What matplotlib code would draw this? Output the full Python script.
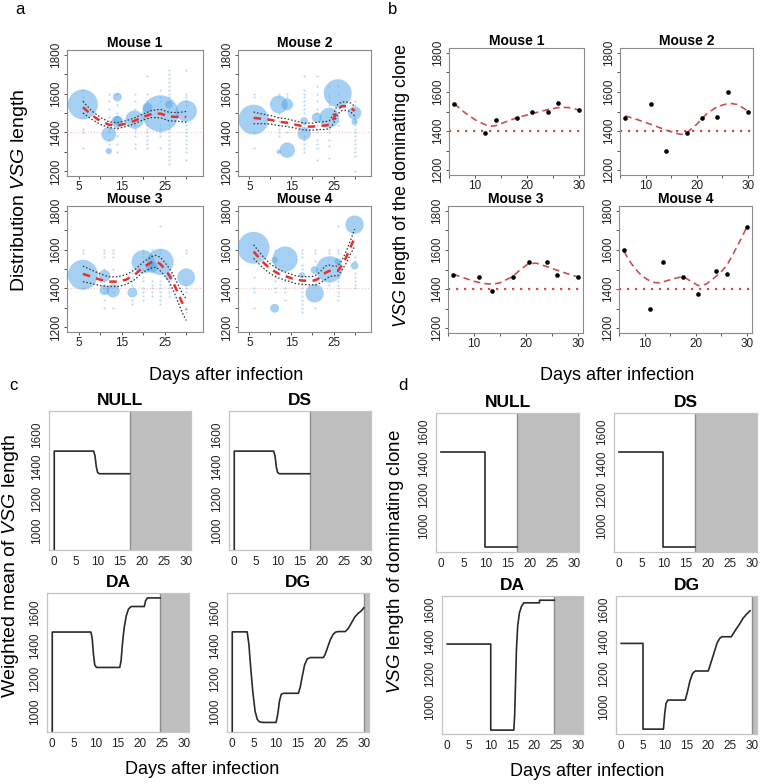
import matplotlib
matplotlib.use('Agg')
import matplotlib.pyplot as plt
import numpy as np

plt.rcParams['font.family'] = ['Liberation Sans', 'DejaVu Sans']
plt.rcParams['mathtext.fontset'] = 'custom'
plt.rcParams['mathtext.rm'] = 'Liberation Sans'
plt.rcParams['mathtext.it'] = 'Liberation Sans:italic'

W, H = 760, 784

# ---------------- panel a: VSG length distribution per mouse ----------------
mice = ['Mouse 1', 'Mouse 2', 'Mouse 3', 'Mouse 4']

# big bubbles: (day, length, frequency)
bub_day = [
    [6, 12, 12, 14, 14, 14, 18, 21, 24, 26, 30],
    [6, 12, 12, 14, 14, 18, 18, 21, 24, 26, 30, 30],
    [6, 11, 11, 13, 17.5, 20, 22, 24, 26, 30],
    [6, 11, 11, 13.5, 17.5, 20.5, 20.5, 24, 26, 30, 30],
]
bub_len = [
    [1544, 1391, 1304, 1582, 1462, 1455, 1466, 1527, 1497, 1544, 1510],
    [1466, 1544, 1300, 1544, 1309, 1459, 1394, 1476, 1476, 1602, 1500, 1455],
    [1470, 1465, 1391, 1388, 1379, 1537, 1510, 1537, 1460, 1457],
    [1609, 1545, 1298, 1551, 1468, 1375, 1495, 1498, 1540, 1728, 1517],
]
bub_freq = [
    [0.45, 0.11, 0.02, 0.04, 0.04, 0.07, 0.17, 0.05, 0.67, 0.03, 0.23],
    [0.45, 0.16, 0.01, 0.07, 0.12, 0.03, 0.09, 0.05, 0.20, 0.39, 0.09, 0.02],
    [0.45, 0.07, 0.05, 0.09, 0.05, 0.27, 0.07, 0.35, 0.03, 0.16],
    [0.51, 0.02, 0.04, 0.32, 0.02, 0.17, 0.03, 0.35, 0.02, 0.17, 0.03],
]

# small dots: one list of lengths per sampled day
dot_days = [
    [6, 12, 14, 18, 21, 24, 26, 30],
    [6, 12, 14, 18, 21, 24, 26, 30],
    [6, 11, 13, 17.5, 20, 22, 24, 26, 30],
    [6, 11, 13.5, 17.5, 20.5, 24, 26, 30],
]
dot_len = [
    [[1620, 1580, 1560, 1500, 1480, 1420, 1400, 1320],
     [1600, 1560, 1520, 1480, 1460, 1440, 1420, 1400, 1360, 1340],
     [1600, 1540, 1500, 1480, 1440, 1420, 1380, 1340, 1300],
     [1600, 1560, 1520, 1440, 1420, 1400, 1380, 1340, 1320],
     [1690, 1600, 1560, 1500, 1460, 1440, 1420, 1400, 1380, 1360, 1340, 1320],
     [1620, 1580, 1560, 1440, 1420, 1400, 1380, 1320],
     [1720, 1700, 1680, 1660, 1640, 1620, 1600, 1580, 1560, 1520, 1500, 1460,
      1440, 1420, 1400, 1380, 1360, 1340, 1320, 1300, 1280, 1260, 1240],
     [1720, 1600, 1580, 1560, 1540, 1460, 1440, 1420, 1400, 1380, 1360, 1340,
      1320, 1300, 1260]],
    [[1600, 1580, 1400, 1320],
     [1600, 1580, 1500, 1480, 1460, 1440, 1420, 1400, 1380],
     [1600, 1580, 1440, 1400],
     [1690, 1620, 1600, 1580, 1560, 1540, 1520, 1500, 1440, 1420, 1380, 1360,
      1340, 1320, 1300],
     [1690, 1640, 1600, 1560, 1520, 1500, 1440, 1420, 1400, 1360, 1340, 1320, 1260],
     [1640, 1600, 1580, 1560, 1540, 1420, 1400, 1360, 1330, 1270],
     [1640, 1600, 1520, 1460, 1440],
     [1560, 1540, 1520, 1480, 1460, 1440, 1420, 1400, 1380, 1360, 1340, 1320,
      1300, 1280, 1200]],
    [[1600, 1580, 1400],
     [1600, 1580, 1560, 1500, 1440, 1420, 1400, 1380, 1340, 1300],
     [1600, 1580, 1560, 1500, 1440, 1380, 1300],
     [1500, 1480, 1460, 1440, 1420, 1340, 1320],
     [1600, 1580, 1560, 1500, 1460, 1440, 1400, 1380, 1360, 1340],
     [1600, 1440, 1420, 1400, 1380, 1360],
     [1720, 1600, 1580, 1440, 1420, 1400, 1380, 1360, 1340, 1320],
     [1420, 1400, 1380, 1360],
     [1600, 1580, 1420, 1400, 1380, 1300, 1280]],
    [[1460, 1400, 1380, 1300],
     [1600, 1560, 1520, 1460, 1440, 1400, 1380],
     [1440, 1400, 1380, 1340],
     [1600, 1580, 1560, 1520, 1500, 1440, 1420, 1400, 1380, 1360, 1340, 1320,
      1300, 1280],
     [1600, 1580, 1540, 1460, 1440, 1420, 1300],
     [1600, 1580, 1440, 1420],
     [1720, 1600, 1580, 1460, 1440, 1420, 1400, 1380, 1360, 1340],
     [1560, 1540, 1480, 1460, 1440, 1420, 1400]],
]

# fitted trend (red dashed) and its band half-width (black dotted)
fit_x = [
    [6, 8, 10, 12, 14, 16, 18, 20, 22, 24, 26, 28, 30],
    [6, 8, 10, 12, 14, 16, 18, 20, 22, 23, 24, 25, 26, 27, 28, 29, 30],
    [6, 8, 10, 12, 14, 16, 18, 20, 22, 23, 24, 25, 26, 27, 28, 29, 30],
    [6, 8, 10, 12, 14, 16, 18, 20, 21, 22, 23, 24, 25, 26, 27, 28, 29, 30],
]
fit_y = [
    [1530, 1490, 1460, 1440, 1435, 1445, 1460, 1480, 1495, 1497, 1482, 1480, 1480],
    [1475, 1470, 1465, 1455, 1450, 1440, 1430, 1430, 1435, 1435, 1440, 1470, 1520,
     1535, 1535, 1530, 1510],
    [1475, 1460, 1445, 1435, 1435, 1445, 1470, 1510, 1535, 1540, 1525, 1500, 1470,
     1430, 1380, 1330, 1290],
    [1590, 1540, 1500, 1475, 1460, 1445, 1440, 1440, 1445, 1460, 1480, 1490, 1490,
     1490, 1520, 1560, 1610, 1660],
]
fit_se = [
    [30, 22, 18, 15, 15, 15, 15, 15, 18, 22, 22, 22, 28],
    [30, 25, 22, 20, 20, 18, 18, 18, 20, 20, 20, 25, 25, 22, 22, 22, 25],
    [40, 35, 30, 25, 25, 25, 25, 25, 30, 30, 35, 35, 35, 40, 45, 50, 55],
    [35, 30, 25, 22, 20, 20, 20, 22, 25, 30, 35, 30, 25, 25, 25, 30, 35, 45],
]

# ---------------- panel b: dominating clone per mouse ----------------
dom_days = [
    [6, 12, 14, 18, 21, 24, 26, 30],
    [6, 11, 14, 18, 21, 24, 26, 30],
    [6, 11, 13.5, 17.5, 20.5, 24, 26, 30],
    [6, 11, 13.5, 17.5, 20.5, 24, 26, 30],
]
dom_len = [
    [1540, 1388, 1458, 1465, 1495, 1495, 1543, 1507],
    [1465, 1540, 1298, 1388, 1465, 1470, 1600, 1500],
    [1470, 1463, 1389, 1463, 1540, 1540, 1470, 1463],
    [1598, 1298, 1538, 1463, 1373, 1493, 1477, 1718],
]
dom_fit_x = [
    [6, 8, 10, 12, 13, 14, 16, 18, 20, 22, 24, 26, 27, 28, 30],
    [6, 8, 10, 12, 14, 16, 17, 18, 20, 22, 24, 26, 27, 28, 30],
    [6, 8, 10, 12, 13.5, 15, 17.5, 19, 20.5, 22, 24, 26, 28, 30],
    [6, 7, 8, 9, 10, 11, 12, 13, 15, 17.5, 19, 20.5, 22, 23.5, 25, 26, 27, 28, 29, 30],
]
dom_fit_y = [
    [1540, 1495, 1458, 1432, 1425, 1428, 1448, 1468, 1482, 1496, 1510, 1520, 1521,
     1520, 1508],
    [1478, 1462, 1444, 1425, 1405, 1388, 1383, 1390, 1435, 1490, 1525, 1540, 1540,
     1535, 1502],
    [1476, 1458, 1440, 1428, 1425, 1432, 1465, 1502, 1530, 1532, 1515, 1496, 1478,
     1462],
    [1592, 1545, 1510, 1480, 1458, 1442, 1433, 1432, 1448, 1465, 1440, 1418, 1425,
     1455, 1490, 1520, 1565, 1615, 1665, 1720],
]

# ---------------- panels c, d: model scenarios ----------------
models = ['NULL', 'DS', 'DA', 'DG']
end_day = [17.2, 17.2, 24.6, 30.0]

wmean_x = [
    [0, 0, 9.0, 9.3, 9.6, 9.9, 10.3, 17.2],
    [0, 0, 9.0, 9.3, 9.6, 9.9, 10.3, 17.2],
    [0, 0, 8.8, 9.1, 9.4, 9.7, 10.1, 15.4, 15.7, 16.0, 16.4, 16.9, 17.4, 18.0,
     21.0, 21.3, 21.7, 24.6],
    [0, 0, 3.4, 3.8, 4.2, 4.7, 5.2, 5.7, 6.2, 7.0, 10.0, 10.4, 10.8, 11.2, 11.7,
     15.1, 15.5, 16.0, 16.5, 17.1, 17.8, 20.8, 21.2, 21.8, 22.4, 23.0, 23.6, 24.3,
     25.8, 26.5, 27.3, 28.0, 28.7, 29.4, 30.0],
]
wmean_y = [
    [850, 1500, 1500, 1470, 1400, 1365, 1358, 1358],
    [850, 1500, 1500, 1470, 1400, 1365, 1358, 1358],
    [850, 1485, 1485, 1450, 1350, 1285, 1270, 1270, 1310, 1410, 1510, 1585, 1625,
     1640, 1640, 1675, 1692, 1692],
    [850, 1486, 1486, 1410, 1270, 1120, 1005, 955, 940, 936, 936, 990, 1070, 1108,
     1113, 1113, 1150, 1220, 1285, 1322, 1330, 1330, 1350, 1395, 1440, 1470, 1485,
     1488, 1488, 1508, 1545, 1578, 1598, 1612, 1632],
]

dom_model_x = [
    [0, 9.8, 9.8, 17.1],
    [0, 9.8, 9.8, 17.1],
    [0, 10.0, 10.0, 15.3, 15.5, 15.7, 15.9, 16.2, 16.6, 17.1, 17.6, 21.2, 21.2, 24.6],
    [0, 5.0, 5.0, 9.7, 10.0, 10.3, 10.7, 14.7, 15.2, 15.8, 16.4, 17.0, 20.0, 20.6,
     21.3, 22.0, 22.6, 23.1, 25.3, 26.2, 27.1, 28.0, 28.8, 29.6],
]
dom_model_y = [
    [1473, 1473, 870, 870],
    [1473, 1473, 870, 870],
    [1386, 1386, 856, 856, 950, 1150, 1350, 1500, 1580, 1620, 1640, 1640, 1656, 1656],
    [1390, 1390, 862, 862, 960, 1020, 1041, 1041, 1090, 1160, 1205, 1220, 1220,
     1270, 1330, 1390, 1420, 1431, 1431, 1470, 1505, 1545, 1570, 1591],
]


def box(l, t, r, b):
    return fig.add_axes([l / W, 1 - b / H, (r - l) / W, (b - t) / H])


def ftext(x, y, s, **kw):
    fig.text(x / W, 1 - y / H, s, **kw)


def style_ab(ax, xticks, xlabels):
    for sp in ax.spines.values():
        sp.set_color('#8a8a8a')
        sp.set_linewidth(0.8)
    ax.set_ylim(1176, 1824)
    ax.set_yticks([1200, 1300, 1400, 1500, 1600, 1700, 1800])
    ax.set_yticklabels(['1200', '', '1400', '', '1600', '', '1800'],
                       rotation=90, va='center')
    ax.set_xticks(xticks)
    ax.set_xticklabels(xlabels)
    ax.tick_params(labelsize=8.5, length=2.5, width=0.7, color='#555555', pad=1,
                   labelcolor='#222222')


def style_cd(ax, ylim):
    for sp in ax.spines.values():
        sp.set_color('#c4c4c4')
        sp.set_linewidth(0.9)
    ax.set_xlim(-1.2, 31.2)
    ax.set_ylim(*ylim)
    ax.set_xticks([0, 5, 10, 15, 20, 25, 30])
    ax.set_yticks([1000, 1200, 1400, 1600])
    ax.set_yticklabels(['1000', '1200', '1400', '1600'], rotation=90, va='center')
    ax.tick_params(length=0, pad=4, labelcolor='#222222')
    for lab in ax.get_xticklabels() + ax.get_yticklabels():
        lab.set_fontsize(8.5)


fig = plt.figure(figsize=(W / 100, H / 100), dpi=100)

# ---- panel a ----
a_boxes = [(67, 50, 203, 176), (238, 50, 371, 176),
           (67, 206, 203, 332), (238, 206, 371, 332)]
for i, bx in enumerate(a_boxes):
    ax = box(*bx)
    ax.axhline(1400, color='#f2c4c4', lw=0.8, ls=':')
    for d, vals in zip(dot_days[i], dot_len[i]):
        ax.scatter([d] * len(vals), vals, s=2.5, color='#6aaee8', alpha=0.45,
                   lw=0, zorder=2)
    ax.scatter(bub_day[i], bub_len[i], s=np.array(bub_freq[i]) * 1036,
               color='#4fa3e8', alpha=0.5, lw=0, zorder=3)
    fx = np.array(fit_x[i])
    fy = np.array(fit_y[i])
    se = np.array(fit_se[i])
    ax.plot(fx, fy + se, color='#333333', lw=0.9, ls=(0, (1.2, 1.6)), zorder=4)
    ax.plot(fx, fy - se, color='#333333', lw=0.9, ls=(0, (1.2, 1.6)), zorder=4)
    ax.plot(fx, fy, color='#e8302a', lw=1.8, ls=(0, (3, 2.5)), zorder=5)
    ax.set_xlim(2.3, 33.9)
    style_ab(ax, [5, 10, 15, 20, 25, 30], ['5', '', '15', '', '25', ''])
    ax.set_title(mice[i], fontsize=10, fontweight='bold', pad=0.5)

# ---- panel b ----
b_boxes = [(449, 48, 584, 175), (620, 48, 753, 175),
           (448, 206, 583, 333), (619, 206, 752, 333)]
for i, bx in enumerate(b_boxes):
    ax = box(*bx)
    ax.axhline(1400, color='#c9504f', lw=1.6, ls=(0, (1, 2.6)))
    ax.plot(dom_fit_x[i], dom_fit_y[i], color='#c9504f', lw=1.2, ls=(0, (4, 2.5)))
    ax.scatter(dom_days[i], dom_len[i], s=11, color='black', lw=0, zorder=5)
    ax.set_xlim(5.04, 30.96)
    style_ab(ax, [5, 10, 15, 20, 25, 30], ['', '10', '', '20', '', '30'])
    ax.set_title(mice[i], fontsize=10, fontweight='bold', pad=0.5)

# ---- panel c ----
c_boxes = [(49, 411, 191, 550), (229, 411, 371, 550),
           (47, 593, 189, 732), (227, 593, 369, 732)]
c_ylims = [(879, 1752), (879, 1752), (878, 1722), (878, 1722)]
for i, bx in enumerate(c_boxes):
    ax = box(*bx)
    ax.axvspan(end_day[i], 31.2, color='#bebebe', lw=0)
    ax.axvline(end_day[i], color='#8c8c8c', lw=1)
    ax.plot(wmean_x[i], wmean_y[i], color='#2a2a2a', lw=1.2)
    style_cd(ax, c_ylims[i])
    ax.set_title(models[i], fontsize=12.5, fontweight='bold', pad=4)

# ---- panel d ----
d_boxes = [(436, 413, 579, 552), (614, 413, 757, 552),
           (442, 596, 583, 734), (616, 596, 757, 734)]
d_ylims = [(836, 1720), (836, 1720), (832, 1682), (832, 1682)]
for i, bx in enumerate(d_boxes):
    ax = box(*bx)
    ax.axvspan(end_day[i], 31.2, color='#bebebe', lw=0)
    ax.axvline(end_day[i], color='#8c8c8c', lw=1)
    ax.plot(dom_model_x[i], dom_model_y[i], color='#2a2a2a', lw=1.2)
    style_cd(ax, d_ylims[i])
    ax.set_title(models[i], fontsize=12.5, fontweight='bold', pad=4)

# ---- shared labels ----
ftext(20, 10, 'a', fontsize=12, va='center', ha='center')
ftext(393, 10, 'b', fontsize=12, va='center', ha='center')
ftext(13, 386, 'c', fontsize=12, va='center', ha='center')
ftext(403, 386, 'd', fontsize=12, va='center', ha='center')

ftext(226, 376, 'Days after infection', fontsize=13, ha='center', va='center')
ftext(617, 376, 'Days after infection', fontsize=13, ha='center', va='center')
ftext(202, 770, 'Days after infection', fontsize=13, ha='center', va='center')
ftext(587, 771, 'Days after infection', fontsize=13, ha='center', va='center')

ftext(20, 190, r'Distribution $\it{VSG}$ length', fontsize=14, rotation=90,
      ha='center', va='center')
ftext(401, 186, r'$\it{VSG}$ length of the dominating clone', fontsize=13,
      rotation=90, ha='center', va='center')
ftext(11, 566, r'Weighted mean of $\it{VSG}$ length', fontsize=14, rotation=90,
      ha='center', va='center')
ftext(395, 562, r'$\it{VSG}$ length of dominating clone', fontsize=13.5,
      rotation=90, ha='center', va='center')

fig.savefig('out.png', dpi=100)
